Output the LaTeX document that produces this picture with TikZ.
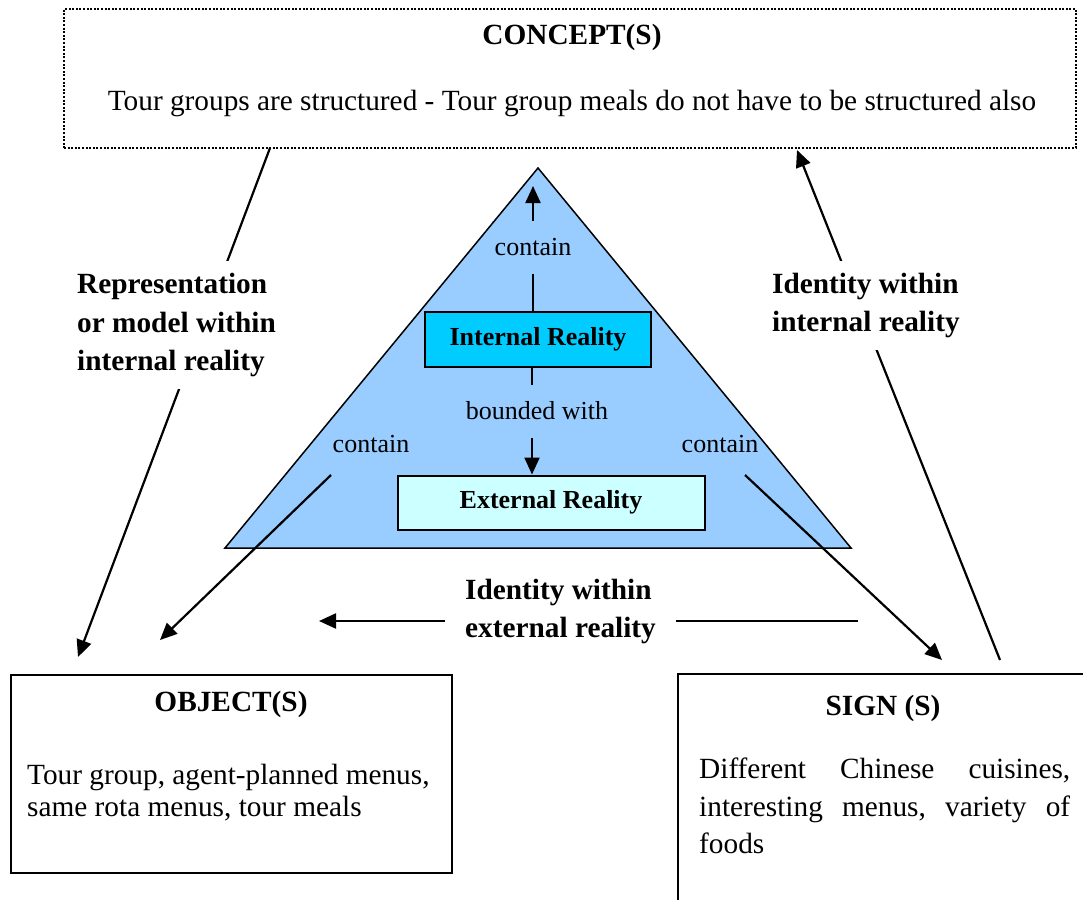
\documentclass[tikz,border=0pt]{standalone}
\usepackage{fontspec}
\setmainfont{Liberation Serif}
\usetikzlibrary{arrows.meta}

\definecolor{tribg}{HTML}{99CCFF}
\definecolor{intbg}{HTML}{00CCFF}
\definecolor{extbg}{HTML}{CCFFFF}

\begin{document}
\begin{tikzpicture}[x=1pt,y=-1pt,
  boxline/.style={draw, line width=2pt, inner sep=0pt},
  conn/.style={line width=2.2pt, -{Triangle[length=17pt,width=15pt]}},
  bodytext/.style={inner sep=0pt, font=\fontsize{29.3}{32}\selectfont},
  headtext/.style={inner sep=0pt, font=\fontsize{29.3}{35}\selectfont\bfseries},
  smalltext/.style={inner sep=0pt, font=\fontsize{26}{30}\selectfont},
  smallbold/.style={inner sep=0pt, font=\fontsize{26}{30}\selectfont\bfseries},
  mask/.style={fill=white, inner xsep=6pt, inner ysep=12pt, align=left}
]
\useasboundingbox (0,0) rectangle (1083,899);
\clip (0,0) rectangle (1083,899);

% ---- the concept box (dotted) ----
\node[draw, dash pattern=on 2pt off 1.6pt, line width=2.4pt,
      minimum width=1012pt, minimum height=139pt, inner sep=0pt] (concept) at (570,78.5) {};
\node[headtext, anchor=base] (concepttitle) at (572,45) {CONCEPT(S)};
\node[bodytext, anchor=base] (concepttext) at (572,110)
  {Tour groups are structured - Tour group meals do not have to be structured also};

% ---- the object box ----
\node[boxline, minimum width=441pt, minimum height=198pt] (object) at (231.5,774) {};
\node[headtext, anchor=base] (objecttitle) at (231,711) {OBJECT(S)};
\node[bodytext, anchor=north west, align=left] (objecttext) at (27,764)
  {Tour group, agent-planned menus,\\ same rota menus, tour meals};

% ---- the sign box (runs off the page to the right and below) ----
\node[inner sep=0pt, minimum width=430pt, minimum height=260pt, anchor=north west] (sign) at (678,674) {};
\draw[line width=2pt] (sign.north east) -- (sign.north west) -- (sign.south west);
\node[headtext, anchor=base] (signtitle) at (883,715) {SIGN (S)};
\node[inner sep=0pt, font=\fontsize{29.3}{37.5}\selectfont, anchor=north west, align=left] (signtext) at (699,758)
  {\hbox to 371pt{Different\hfill Chinese\hfill cuisines,}\\
   \hbox to 371pt{interesting\hfill menus,\hfill variety\hfill of}\\
   foods};

% ---- the triangle of realities ----
\fill[tribg] (538,168) -- (851,548) -- (225,548) -- cycle;
\node[boxline, fill=intbg, minimum width=226pt, minimum height=55pt] (intbox) at (538,339.5) {};
\node[smallbold, anchor=base] (inttext) at (538,345) {Internal Reality};
\node[boxline, fill=extbg, minimum width=307pt, minimum height=54pt] (extbox) at (551.5,502.5) {};
\node[smallbold, anchor=base] (exttext) at (551,508) {External Reality};

% ---- connector end points ----
\coordinate (apextip) at (533,186);
\coordinate (lcfrom) at (331,475);
\coordinate (lcto) at (160,640);
\coordinate (rcfrom) at (745,475);
\coordinate (rcto) at (942,660);
\coordinate (repfrom) at (270,148);
\coordinate (repto) at (78,657);
\coordinate (idifrom) at (1000,660);
\coordinate (idito) at (797,150);
\coordinate (idefrom) at (858,621);
\coordinate (ideto) at (319,621);

% ---- connectors ----
\draw[conn] ([xshift=-5pt]intbox.north) -- (apextip);
\draw[conn] ([xshift=-6pt]intbox.south) -- ([xshift=-19.5pt]extbox.north);
\draw[conn] (lcfrom) -- (lcto);
\draw[conn] (rcfrom) -- (rcto);
\draw[conn] (repfrom) -- (repto);
\draw[conn] (idifrom) -- (idito);
\draw[conn] (idefrom) -- (ideto);

% ---- labels ----
\node[smalltext, fill=tribg, minimum height=53pt, inner xsep=3pt] (containup) at (533,247) {contain};
\node[smalltext, fill=tribg, minimum height=53pt, inner xsep=3pt] (bounded) at (537,411) {bounded with};
\node[smalltext, anchor=base] (containl) at (371,452) {contain};
\node[smalltext, anchor=base] (containr) at (720,452) {contain};

% triangle outline on top of the label backgrounds
\draw[line width=1.5pt, line join=miter] (538,168) -- (851,548) -- (225,548) -- cycle;

\node[headtext, mask, anchor=north west, font=\fontsize{29.3}{38.5}\selectfont\bfseries] (replabel) at (71,261)
  {Representation\\ or model within\\ internal reality};
\node[headtext, mask, anchor=north west, font=\fontsize{29.3}{38}\selectfont\bfseries] (idilabel) at (766,261)
  {Identity within\\ internal reality};
\node[headtext, mask, anchor=north west, inner xsep=20pt, inner ysep=6pt, font=\fontsize{29.3}{38}\selectfont\bfseries] (idelabel) at (445,573)
  {Identity within\\ external reality};
\end{tikzpicture}
\end{document}
